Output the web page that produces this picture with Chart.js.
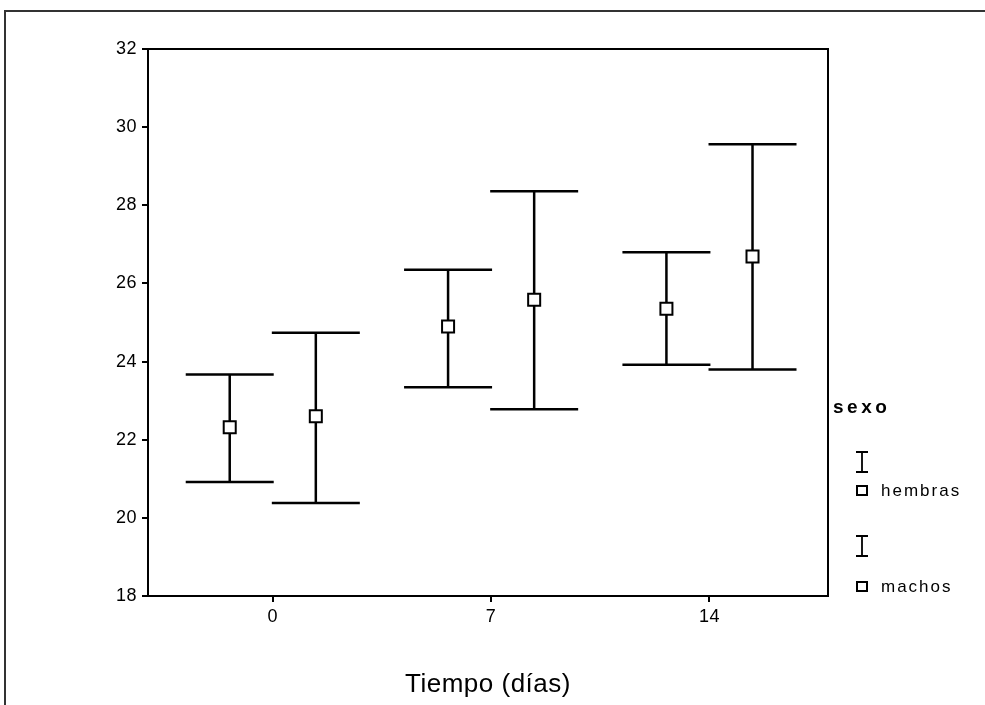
<!DOCTYPE html>
<html>
<head>
<meta charset="utf-8">
<script src="https://cdn.jsdelivr.net/npm/chart.js@4.4.0/dist/chart.umd.min.js"></script>
<style>
  html, body { margin: 0; padding: 0; background: #fff; }
  #wrap { width: 985px; height: 705px; position: relative; }
</style>
</head>
<body>
<div id="wrap"><canvas id="chart"></canvas></div>
<script>
// days measured
var days = [0, 7, 14];
var yTicks = [18, 20, 22, 24, 26, 28, 30, 32];

// hembras: mean and interval
var hembrasMean = [22.32, 24.90, 25.35];
var hembrasLow  = [20.92, 23.34, 23.92];
var hembrasHigh = [23.67, 26.35, 26.80];

// machos: mean and interval
var machosMean = [22.60, 25.58, 26.69];
var machosLow  = [20.38, 22.78, 23.80];
var machosHigh = [24.74, 28.36, 29.56];

var GROUP_SHIFT = 1.38;   // days, hembras left / machos right of the tick
var CAP_HALF = 44;        // px
var FONT = "'Liberation Sans', Arial, sans-serif";

function points(mean, shift) {
    return days.map(function(d, i) { return { x: d + shift, y: mean[i] }; });
}

// a bit of tracking on all text, like the scanned original
var spacing = {
    id: 'spacing',
    beforeDraw: function(chart) { chart.ctx.letterSpacing = '0.5px'; }
};

var errorBars = {
    id: 'errorBars',
    beforeDatasetsDraw: function(chart) {
        var ctx = chart.ctx;
        var ys = chart.scales.y;
        chart.data.datasets.forEach(function(ds, di) {
            var meta = chart.getDatasetMeta(di);
            meta.data.forEach(function(pt, i) {
                var x = pt.x;
                var yl = ys.getPixelForValue(ds.low[i]);
                var yh = ys.getPixelForValue(ds.high[i]);
                ctx.save();
                ctx.strokeStyle = '#000';
                ctx.lineWidth = 2.5;
                ctx.beginPath();
                ctx.moveTo(x, yh); ctx.lineTo(x, yl);
                ctx.moveTo(x - CAP_HALF, yh); ctx.lineTo(x + CAP_HALF, yh);
                ctx.moveTo(x - CAP_HALF, yl); ctx.lineTo(x + CAP_HALF, yl);
                ctx.stroke();
                ctx.restore();
            });
        });
    }
};

var frameAndLegend = {
    id: 'frameAndLegend',
    afterDraw: function(chart) {
        var ctx = chart.ctx;
        var a = chart.chartArea;
        ctx.save();
        ctx.strokeStyle = '#000';
        ctx.lineWidth = 2;
        // top and right side of the plot box
        ctx.beginPath();
        ctx.moveTo(a.left, a.top); ctx.lineTo(a.right, a.top); ctx.lineTo(a.right, a.bottom);
        ctx.stroke();
        // outer frame (cut off right/bottom)
        ctx.strokeStyle = '#333';
        ctx.beginPath();
        ctx.moveTo(5, 705); ctx.lineTo(5, 11); ctx.lineTo(985, 11);
        ctx.stroke();

        // legend
        ctx.fillStyle = '#000';
        ctx.textBaseline = 'middle';
        ctx.textAlign = 'left';
        ctx.font = 'bold 19px ' + FONT;
        ctx.letterSpacing = '3.5px';
        ctx.fillText('sexo', 833, 408);
        ctx.font = '17px ' + FONT;
        ctx.letterSpacing = '2px';

        var rows = [
            { label: 'hembras', iy: 462, sy: 491 },
            { label: 'machos', iy: 546, sy: 587 }
        ];
        rows.forEach(function(r) {
            // I-beam symbol
            ctx.lineWidth = 1.8;
            ctx.strokeStyle = '#000';
            ctx.beginPath();
            ctx.moveTo(862, r.iy - 10); ctx.lineTo(862, r.iy + 10);
            ctx.moveTo(856, r.iy - 10); ctx.lineTo(868, r.iy - 10);
            ctx.moveTo(856, r.iy + 10); ctx.lineTo(868, r.iy + 10);
            ctx.stroke();
            // square marker
            ctx.lineWidth = 2;
            ctx.strokeRect(857, r.sy - 5, 10, 9);
            ctx.fillText(r.label, 881, r.sy);
        });
        ctx.restore();
    }
};

new Chart(document.getElementById('chart'), {
    type: 'scatter',
    data: {
        datasets: [{
            label: 'hembras',
            data: points(hembrasMean, -GROUP_SHIFT),
            low: hembrasLow,
            high: hembrasHigh,
            pointStyle: 'rect',
            pointRadius: 8.5,
            pointBorderWidth: 2,
            pointBackgroundColor: '#fff',
            pointBorderColor: '#000'
        }, {
            label: 'machos',
            data: points(machosMean, GROUP_SHIFT),
            low: machosLow,
            high: machosHigh,
            pointStyle: 'rect',
            pointRadius: 8.5,
            pointBorderWidth: 2,
            pointBackgroundColor: '#fff',
            pointBorderColor: '#000'
        }]
    },
    options: {
        responsive: true,
        maintainAspectRatio: false,
        animation: false,
        layout: { padding: { top: 49, right: 157, left: 0, bottom: 0 } },
        plugins: { legend: { display: false }, tooltip: { enabled: false } },
        scales: {
            x: {
                type: 'linear',
                min: -4,
                max: 17.8,
                afterBuildTicks: function(scale) {
                    scale.ticks = days.map(function(v) { return { value: v }; });
                },
                afterFit: function(scale) { scale.height = 109; },
                ticks: {
                    color: '#000',
                    font: { family: FONT, size: 18 },
                    padding: 4,
                    maxRotation: 0,
                    callback: function(v) { return String(v); }
                },
                grid: { drawOnChartArea: false, color: '#000', lineWidth: 2, tickLength: 6 },
                border: { color: '#000', width: 2 },
                title: {
                    display: true,
                    text: 'Tiempo (días)',
                    color: '#000',
                    font: { family: FONT, size: 26 },
                    padding: { top: 0, bottom: 5 }
                }
            },
            y: {
                min: 18,
                max: 32,
                afterBuildTicks: function(scale) {
                    scale.ticks = yTicks.map(function(v) { return { value: v }; });
                },
                afterFit: function(scale) { scale.width = 148; },
                ticks: {
                    color: '#000',
                    font: { family: FONT, size: 18 },
                    padding: 5
                },
                grid: { drawOnChartArea: false, color: '#000', lineWidth: 2, tickLength: 6 },
                border: { color: '#000', width: 2 }
            }
        }
    },
    plugins: [spacing, errorBars, frameAndLegend]
});
</script>
</body>
</html>
